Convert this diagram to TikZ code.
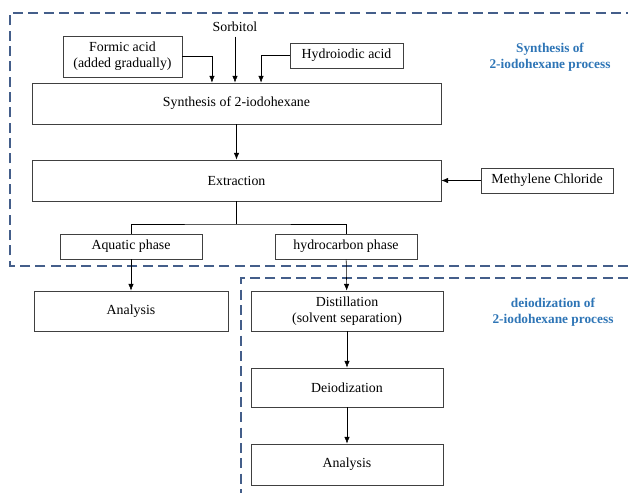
\documentclass[tikz,border=0pt]{standalone}
\usepackage{fontspec}
\setmainfont{Liberation Serif}
\usetikzlibrary{arrows.meta}
\definecolor{frameblue}{RGB}{68,94,138}
\definecolor{titleblue}{RGB}{46,117,182}
\tikzset{
	box/.style = {draw = black!75, line width = 0.6pt, align = center, inner sep = 0pt},
	frame/.style = {draw = frameblue, line width = 1.5pt, dash pattern = on 7.5pt off 4pt},
	title/.style = {align = center, text = titleblue, font = \bfseries}
}
\begin{document}
\begin{tikzpicture}[x = 0.75pt, y = -0.75pt, >={Latex[length=5pt,width=4pt]}, font = \fontsize{10.4}{12.2}\selectfont]
	\useasboundingbox (0,0) rectangle (628,493);
	\draw [frame] (628,266) -- (10,266) -- (10,13) -- (628,13);
	\draw [frame] (628,278) -- (241,278) -- (241,493);
	\node [title] (syntitle) at (550,57) {Synthesis of\\2-iodohexane process};
	\node [title] (deititle) at (553,312) {deiodization of\\2-iodohexane process};
	\node (sorbitol) at (235,27) {Sorbitol};
	\node [box, minimum width = 89.25pt, minimum height = 30.75pt] (formic) at (122.5,56.5) {Formic acid\\(added gradually)};
	\node [box, minimum width = 84.75pt, minimum height = 18.75pt] (hydroiodic) at (346.5,55.5) {Hydroiodic acid};
	\node [box, minimum width = 306.75pt, minimum height = 30.75pt] (synthesis) at (236.5,103.5) {Synthesis of 2-iodohexane};
	\node [box, minimum width = 306.75pt, minimum height = 30.75pt] (extraction) at (236.5,180.5) {Extraction};
	\node [box, minimum width = 99pt, minimum height = 18.75pt] (methylene) at (547,180.5) {Methylene Chloride};
	\node [box, minimum width = 106.5pt, minimum height = 18.75pt] (aquatic) at (131,246.5) {Aquatic phase};
	\node [box, minimum width = 106.5pt, minimum height = 18.75pt] (hydrocarbon) at (346,246.5) {hydrocarbon phase};
	\node [box, minimum width = 145.5pt, minimum height = 30pt] (analysisA) at (131,311) {Analysis};
	\node [box, minimum width = 144pt, minimum height = 30pt] (distillation) at (347,311) {Distillation\\(solvent separation)};
	\node [box, minimum width = 144pt, minimum height = 29.25pt] (deiodization) at (347,387.5) {Deiodization};
	\node [box, minimum width = 144pt, minimum height = 30.75pt] (analysisB) at (347,464.5) {Analysis};
	\coordinate (split) at (236.5,224);
	\draw [->] (sorbitol) -- (sorbitol |- synthesis.north);
	\draw [->] (formic.east) -| ([xshift = -18.4pt]synthesis.north);
	\draw [->] (hydroiodic.west) -| ([xshift = 18.4pt]synthesis.north);
	\draw [->] (synthesis) -- (extraction);
	\draw [->] (methylene) -- (extraction);
	\draw (extraction) -- (split);
	\draw (aquatic.north) |- (split) -| (hydrocarbon.north);
	\draw [->] (aquatic) -- (analysisA);
	\draw [->] (hydrocarbon) -- (distillation);
	\draw [->] (distillation) -- (deiodization);
	\draw [->] (deiodization) -- (analysisB);
\end{tikzpicture}
\end{document}
